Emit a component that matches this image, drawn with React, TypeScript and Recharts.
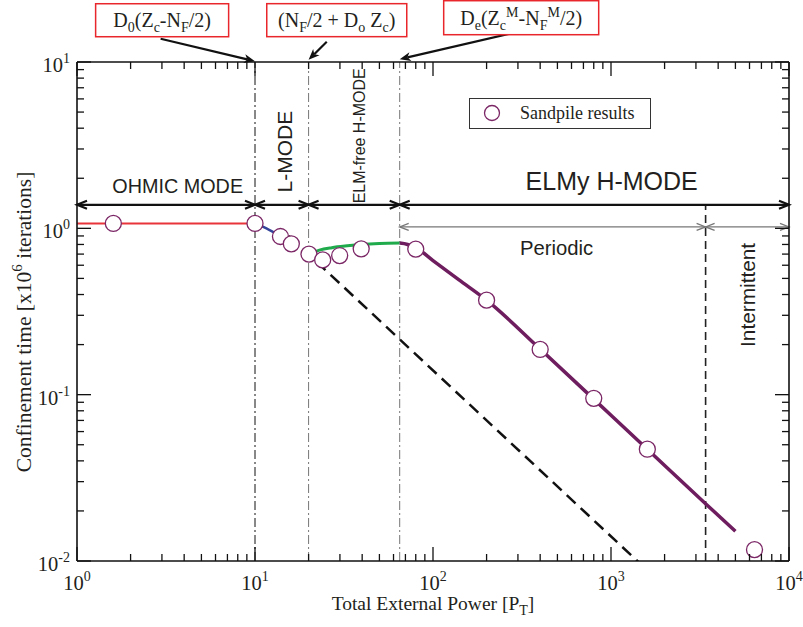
import React from 'react';
import { ComposedChart, Line, Scatter, XAxis, YAxis, ReferenceLine, ReferenceDot, Legend } from 'recharts';

const SERIF = '"Liberation Serif", "Times New Roman", serif';
const SANS = '"Liberation Sans", Arial, sans-serif';
const INK = '#231f20';

// x: total external power, y: confinement time [x10^6 iterations]
const ohmicX = [1, 10];
const ohmicY = [1.07, 1.07];
const lmodeX = [10, 12, 14, 15.5];
const lmodeY = [1.07, 0.98, 0.9, 0.87];
const scalingX = [15.5, 1450];
const scalingY = [0.9, 0.0097];
const elmFreeX = [20, 23, 27, 33, 40, 50, 65];
const elmFreeY = [0.7, 0.74, 0.765, 0.785, 0.8, 0.81, 0.815];
const elmyX = [65, 72, 80, 100, 140, 200, 400, 800, 1600, 3400, 5000];
const elmyY = [0.815, 0.8, 0.765, 0.64, 0.49, 0.37, 0.188, 0.094, 0.047, 0.0221, 0.0151];
const sandX = [1.6, 10, 13.9, 16, 20.1, 24, 29.9, 39.5, 80, 200, 400, 800, 1600, 6400];
const sandY = [1.07, 1.07, 0.893, 0.807, 0.7, 0.646, 0.686, 0.753, 0.75, 0.37, 0.187, 0.095, 0.047, 0.0117];

// regime boundaries
const ohmicEdge = 10;
const lEdge = 20;
const elmFreeEdge = 65;
const intermittentEdge = 3400;
const modeRowY = 1.385;
const elmRowY = 1.02;

const majorX = [1, 10, 100, 1000, 10000];
const expX = ['0', '1', '2', '3', '4'];
const majorY = [0.01, 0.1, 1, 10];
const expY = ['-2', '-1', '0', '1'];
const minorSteps = [2, 3, 4, 5, 6, 7, 8, 9];

const withMinors = (majors: number[]) => {
  const out: number[] = [];
  majors.forEach((m, i) => {
    out.push(m);
    if (i < majors.length - 1) minorSteps.forEach((s) => out.push(m * s));
  });
  return out;
};
const xTicks = withMinors(majorX);
const yTicks = withMinors(majorY);

const pts = (xs: number[], ys: number[]) => xs.map((x, i) => ({ x, y: ys[i] }));

const makeTick = (side: 'bottom' | 'top' | 'left' | 'right', majors: number[], exps: string[] | null) => (props: any) => {
  const { x, y, payload } = props;
  const i = majors.indexOf(payload.value);
  const len = i >= 0 ? 14 : 7;
  let x2 = x, y2 = y;
  if (side === 'bottom') y2 = y - len;
  if (side === 'top') y2 = y + len;
  if (side === 'left') x2 = x + len;
  if (side === 'right') x2 = x - len;
  return (
    <g>
      <line x1={x} y1={y} x2={x2} y2={y2} stroke="#111" strokeWidth={1.3} />
      {exps && i >= 0 && side === 'bottom' && (
        <text x={x} y={y + 29} textAnchor="middle" fontFamily={SERIF} fontSize={20.5} fill={INK}>
          10<tspan dy={-9} fontSize={14}>{exps[i]}</tspan>
        </text>
      )}
      {exps && i >= 0 && side === 'left' && (
        <text x={x - 7} y={y + 10} textAnchor="end" fontFamily={SERIF} fontSize={20.5} fill={INK}>
          10<tspan dy={-9} fontSize={14}>{exps[i]}</tspan>
        </text>
      )}
    </g>
  );
};

const doubleArrow = (color: string, width: number, hl: number, hw: number) => (p: any) => {
  const { x1, y1, x2, y2 } = p;
  return (
    <g fill="none" stroke={color} strokeWidth={width}>
      <line x1={x1} y1={y1} x2={x2} y2={y2} />
      <polyline points={`${x1 + hl},${y1 - hw} ${x1},${y1} ${x1 + hl},${y1 + hw}`} />
      <polyline points={`${x2 - hl},${y2 - hw} ${x2},${y2} ${x2 - hl},${y2 + hw}`} />
    </g>
  );
};

const textShape = (t: string, size: number, rotate = false) => (p: any) => (
  <text
    x={p.cx}
    y={p.cy}
    textAnchor="middle"
    dominantBaseline={rotate ? 'central' : 'auto'}
    transform={rotate ? `rotate(-90 ${p.cx} ${p.cy})` : undefined}
    fontFamily={SANS}
    fontSize={size}
    fill={INK}
  >
    {t}
  </text>
);

type BoxSpec = { dx: number; w: number; h: number; gap: number; text: React.ReactNode };
const pointerShape = (spec: BoxSpec) => (p: any) => {
  const { x1, y1, x2, y2 } = p;
  const L = Math.hypot(x2 - x1, y2 - y1) || 1;
  const ux = (x2 - x1) / L, uy = (y2 - y1) / L;
  const hl = 11, hw = 4.5;
  const bx = x2 - ux * hl, by = y2 - uy * hl;
  const cx = x1 + spec.dx;
  const top = y1 - spec.gap - spec.h;
  return (
    <g>
      <line x1={x1} y1={y1} x2={bx + ux * 3} y2={by + uy * 3} stroke="#111" strokeWidth={2.2} />
      <polygon
        points={`${x2},${y2} ${bx - uy * hw},${by + ux * hw} ${bx + ux * 3},${by + uy * 3} ${bx + uy * hw},${by - ux * hw}`}
        fill="#111"
      />
      <rect x={cx - spec.w / 2} y={top} width={spec.w} height={spec.h} fill="#fff" stroke="#e8262b" strokeWidth={1.5} />
      <text x={cx} y={top + spec.h / 2 + 7} textAnchor="middle" fontFamily={SERIF} fontSize={20} fill={INK}>
        {spec.text}
      </text>
    </g>
  );
};

const box1: BoxSpec = {
  dx: 1.5, w: 133, h: 33, gap: 2,
  text: (
    <>
      <tspan>D</tspan><tspan dy={5} fontSize={14}>0</tspan><tspan dy={-5}>(Z</tspan>
      <tspan dy={5} fontSize={14}>c</tspan><tspan dy={-5}>-N</tspan>
      <tspan dy={5} fontSize={14}>F</tspan><tspan dy={-5}>/2)</tspan>
    </>
  ),
};
const box2: BoxSpec = {
  dx: 10, w: 140, h: 33, gap: 5,
  text: (
    <>
      <tspan>(N</tspan><tspan dy={5} fontSize={14}>F</tspan><tspan dy={-5}>/2 + D</tspan>
      <tspan dy={5} fontSize={14}>o</tspan><tspan dy={-5}> Z</tspan>
      <tspan dy={5} fontSize={14}>c</tspan><tspan dy={-5}>)</tspan>
    </>
  ),
};
const box3: BoxSpec = {
  dx: 7.5, w: 155, h: 34, gap: -2,
  text: (
    <>
      <tspan>D</tspan><tspan dy={5} fontSize={14}>e</tspan><tspan dy={-5}>(Z</tspan>
      <tspan dy={5} fontSize={14}>c</tspan><tspan dy={-13} fontSize={14}>M</tspan>
      <tspan dy={8}>-N</tspan><tspan dy={5} fontSize={14}>F</tspan>
      <tspan dy={-13} fontSize={14}>M</tspan><tspan dy={8}>/2)</tspan>
    </>
  ),
};

const YTitle = () => (
  <text x={31} y={322} transform="rotate(-90 31 322)" textAnchor="middle" fontFamily={SERIF} fontSize={21.5} fill={INK}>
    Confinement time [x10<tspan dy={-9} fontSize={15}>6</tspan><tspan dy={9}> iterations]</tspan>
  </text>
);

const XTitle = () => (
  <text x={433} y={610} textAnchor="middle" fontFamily={SERIF} fontSize={19.5} fill={INK}>
    Total External Power [P<tspan dy={5} fontSize={14}>T</tspan><tspan dy={-5}>]</tspan>
  </text>
);

const LegendBox = () => (
  <div
    style={{
      width: 182,
      height: 31,
      border: '1px solid #333',
      background: '#fff',
      display: 'flex',
      alignItems: 'center',
      fontFamily: SERIF,
      fontSize: 18,
      color: INK,
      boxSizing: 'border-box',
    }}
  >
    <svg width={50} height={31}>
      <circle cx={22} cy={15} r={7.5} fill="#fff" stroke="#7b2766" strokeWidth={1.3} />
    </svg>
    <span>Sandpile results</span>
  </div>
);

const circleShape = (p: any) => <circle cx={p.cx} cy={p.cy} r={8} fill="#fff" stroke="#7b2766" strokeWidth={1.3} />;

export default function App() {
  return (
    <div style={{ width: 803, height: 627, background: '#fff' }}>
      <style>{'body{margin:0}'}</style>
      <ComposedChart width={803} height={627} margin={{ top: 61, right: 13, bottom: 65, left: 76 }}>
        <XAxis
          dataKey="x"
          type="number"
          scale="log"
          domain={[1, 10000]}
          allowDataOverflow
          ticks={xTicks}
          interval={0}
          tickSize={0}
          tickMargin={0}
          height={1}
          tick={makeTick('bottom', majorX, expX)}
          axisLine={{ stroke: '#111', strokeWidth: 1.6 }}
          label={<XTitle />}
        />
        <XAxis
          xAxisId="top"
          orientation="top"
          dataKey="x"
          type="number"
          scale="log"
          domain={[1, 10000]}
          allowDataOverflow
          ticks={xTicks}
          interval={0}
          tickSize={0}
          tickMargin={0}
          height={1}
          tick={makeTick('top', majorX, null)}
          axisLine={{ stroke: '#111', strokeWidth: 1.6 }}
        />
        <YAxis
          dataKey="y"
          type="number"
          scale="log"
          domain={[0.01, 10]}
          allowDataOverflow
          ticks={yTicks}
          interval={0}
          tickSize={0}
          tickMargin={0}
          width={1}
          tick={makeTick('left', majorY, expY)}
          axisLine={{ stroke: '#111', strokeWidth: 1.6 }}
          label={<YTitle />}
        />
        <YAxis
          yAxisId="right"
          orientation="right"
          dataKey="y"
          type="number"
          scale="log"
          domain={[0.01, 10]}
          allowDataOverflow
          ticks={yTicks}
          interval={0}
          tickSize={0}
          tickMargin={0}
          width={1}
          tick={makeTick('right', majorY, null)}
          axisLine={{ stroke: '#111', strokeWidth: 1.6 }}
        />

        <ReferenceLine x={ohmicEdge} stroke="#111" strokeWidth={1} strokeDasharray="9 3 2 3" />
        <ReferenceLine x={lEdge} stroke="#777" strokeWidth={1} strokeDasharray="9 3 2 3" />
        <ReferenceLine x={elmFreeEdge} stroke="#777" strokeWidth={1} strokeDasharray="9 3 2 3" />
        <ReferenceLine
          segment={[{ x: intermittentEdge, y: 0.01 }, { x: intermittentEdge, y: modeRowY }]}
          stroke="#222"
          strokeWidth={1.6}
          strokeDasharray="8 5"
        />

        <ReferenceLine segment={[{ x: 1, y: modeRowY }, { x: ohmicEdge, y: modeRowY }]} shape={doubleArrow('#111', 2.2, 10, 4)} ifOverflow="visible" />
        <ReferenceLine segment={[{ x: ohmicEdge, y: modeRowY }, { x: lEdge, y: modeRowY }]} shape={doubleArrow('#111', 2.2, 10, 4)} ifOverflow="visible" />
        <ReferenceLine segment={[{ x: lEdge, y: modeRowY }, { x: elmFreeEdge, y: modeRowY }]} shape={doubleArrow('#111', 2.2, 10, 4)} ifOverflow="visible" />
        <ReferenceLine segment={[{ x: elmFreeEdge, y: modeRowY }, { x: 10000, y: modeRowY }]} shape={doubleArrow('#111', 2.2, 10, 4)} ifOverflow="visible" />
        <ReferenceLine segment={[{ x: elmFreeEdge, y: elmRowY }, { x: intermittentEdge, y: elmRowY }]} shape={doubleArrow('#777', 1.3, 9, 3.5)} ifOverflow="visible" />
        <ReferenceLine segment={[{ x: intermittentEdge, y: elmRowY }, { x: 10000, y: elmRowY }]} shape={doubleArrow('#777', 1.3, 9, 3.5)} ifOverflow="visible" />

        <ReferenceDot x={3.68} y={1.64} r={0} ifOverflow="visible" shape={textShape('OHMIC MODE', 19.8)} />
        <ReferenceDot x={14.7} y={2.89} r={0} ifOverflow="visible" shape={textShape('L-MODE', 21, true)} />
        <ReferenceDot x={38.7} y={3.6} r={0} ifOverflow="visible" shape={textShape('ELM-free H-MODE', 16, true)} />
        <ReferenceDot x={1009} y={1.7} r={0} ifOverflow="visible" shape={textShape('ELMy H-MODE', 25)} />
        <ReferenceDot x={495} y={0.693} r={0} ifOverflow="visible" shape={textShape('Periodic', 20.3)} />
        <ReferenceDot x={5860} y={0.398} r={0} ifOverflow="visible" shape={textShape('Intermittent', 20.8, true)} />

        <Line data={pts(scalingX, scalingY)} dataKey="y" stroke="#111" strokeWidth={2.5} strokeDasharray="12 7" dot={false} isAnimationActive={false} />
        <Line data={pts(ohmicX, ohmicY)} dataKey="y" stroke="#e8343a" strokeWidth={2} dot={false} isAnimationActive={false} />
        <Line data={pts(lmodeX, lmodeY)} dataKey="y" type="monotone" stroke="#34449a" strokeWidth={2.5} dot={false} isAnimationActive={false} />
        <Line data={pts(elmFreeX, elmFreeY)} dataKey="y" type="monotone" stroke="#1faa4c" strokeWidth={3} dot={false} isAnimationActive={false} />
        <Line data={pts(elmyX, elmyY)} dataKey="y" type="monotone" stroke="#6e1d5e" strokeWidth={3.5} dot={false} isAnimationActive={false} />
        <Scatter name="Sandpile results" data={pts(sandX, sandY)} shape={circleShape} isAnimationActive={false} />

        <ReferenceLine segment={[{ x: 2.95, y: 13.8 }, { x: ohmicEdge, y: 10.1 }]} shape={pointerShape(box1)} ifOverflow="visible" />
        <ReferenceLine segment={[{ x: 25.3, y: 13.25 }, { x: lEdge, y: 10.3 }]} shape={pointerShape(box2)} ifOverflow="visible" />
        <ReferenceLine segment={[{ x: 284, y: 15 }, { x: elmFreeEdge, y: 10.4 }]} shape={pointerShape(box3)} ifOverflow="visible" />

        <Legend
          layout="horizontal"
          verticalAlign="middle"
          align="center"
          wrapperStyle={{ position: 'absolute', left: 469, top: 98, width: 182, height: 31 }}
          content={() => <LegendBox />}
        />
      </ComposedChart>
    </div>
  );
}
